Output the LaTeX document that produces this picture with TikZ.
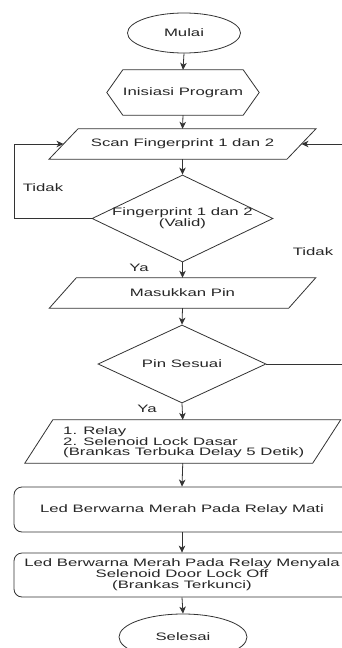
\documentclass[tikz,border=0pt]{standalone}
\usepackage{fontspec}
\setmainfont[FakeStretch=1.55]{Liberation Sans}
\usetikzlibrary{shapes.geometric,arrows.meta,calc}
\begin{document}
\begin{tikzpicture}[x=1pt,y=-1pt,
  every node/.style={font=\fontsize{10.8}{11}\selectfont, text=black!85, inner sep=0pt},
  ln/.style={draw=black!80, line width=0.8pt},
  arr/.style={ln, -{Stealth[length=7pt,width=6.5pt,inset=2pt]}},
  body/.style={draw=none, rectangle},
  rbox/.style={ln, rectangle, rounded corners=8pt, minimum width=336pt}
]
\clip (0,0) rectangle (342,648);
\fill[white] (0,0) rectangle (342,648);

% Start
\node[ln, ellipse, minimum width=113pt, minimum height=40pt] (start) at (184,33) {Mulai};

% Init hexagon
\node[body, minimum width=114pt, minimum height=45pt] (init) at (183,92.5) {Inisiasi Program};
\draw[ln] (init.north west) -- (init.north east) -- ($(init.east)+(16,0)$) -- (init.south east)
  -- (init.south west) -- ($(init.west)+(-16,0)$) -- cycle;

% Scan parallelogram
\node[body, minimum width=237.5pt, minimum height=30pt] (scan) at (182.5,144) {Scan Fingerprint 1 dan 2};
\draw[ln] ($(scan.south west)+(-14.5,0)$) -- ($(scan.north west)+(14.5,0)$)
  -- ($(scan.north east)+(14.5,0)$) -- ($(scan.south east)+(-14.5,0)$) -- cycle;

% Diamond 1
\node[ln, diamond, minimum width=181pt, minimum height=87pt] (d1) at (182.5,218.5) {};
\node[align=center, font=\fontsize{10.8}{11}\selectfont] (d1t) at (d1) {Fingerprint 1 dan 2\\(Valid)};

% Masukkan Pin
\node[body, minimum width=239pt, minimum height=30pt] (mas) at (182.5,293) {Masukkan Pin};
\draw[ln] ($(mas.south west)+(-13.5,0)$) -- ($(mas.north west)+(13.5,0)$)
  -- ($(mas.north east)+(13.5,0)$) -- ($(mas.south east)+(-13.5,0)$) -- cycle;

% Diamond 2
\node[ln, diamond, minimum width=168pt, minimum height=78pt] (d2) at (182,364) {};
\node (d2t) at (d2) {Pin Sesuai};

% Parallelogram 3
\node[body, minimum width=287.5pt, minimum height=43pt] (p3) at (182.75,441.5) {};
\draw[ln] ($(p3.south west)+(-14,0)$) -- ($(p3.north west)+(14,0)$)
  -- ($(p3.north east)+(14,0)$) -- ($(p3.south east)+(-14,0)$) -- cycle;
\node[align=left, anchor=west, font=\fontsize{10.8}{9.8}\selectfont] (p3t) at (63,442)
  {1. Relay\\2. Selenoid Lock Dasar\\(Brankas Terbuka Delay 5 Detik)};

% Rounded boxes
\node[rbox, minimum height=45pt] (rb1) at (182,509.5) {Led Berwarna Merah Pada Relay Mati};
\node[rbox, minimum height=44pt, align=center] (rb2) at (182,575)
  {Led Berwarna Merah Pada Relay Menyala\\Selenoid Door Lock Off\\(Brankas Terkunci)};

% End
\node[ln, ellipse, minimum width=128pt, minimum height=46pt] (end) at (183,637) {Selesai};

% Connectors
\draw[arr] (start.south) -- (init.north);
\draw[arr] (init.south) -- (scan.north);
\draw[arr] (scan.south) -- (d1.north);
\draw[arr] (d1.south) -- (mas.north);
\draw[arr] (mas.south) -- (d2.north);
\draw[arr] (d2.south) -- (p3.north);
\draw[arr] (p3.south) -- (rb1.north);
\draw[arr] (rb1.south) -- (rb2.north);
\draw[arr] (rb2.south) -- (end.north);

\coordinate (L) at (14,0);
\coordinate (R) at (352,0);
\draw[arr] (d1.west) -- (d1.west -| L) -- (scan.west -| L) -- (scan.west);
\draw[arr] (d2.east) -- (d2.east -| R) -- (scan.east -| R) -- (scan.east);

% Labels
\node (tl) at (43,188) {Tidak};
\node (tr) at (313,252) {Tidak};
\node (ya1) at (139,268) {Ya};
\node (ya2) at (147,409) {Ya};
\end{tikzpicture}
\end{document}
